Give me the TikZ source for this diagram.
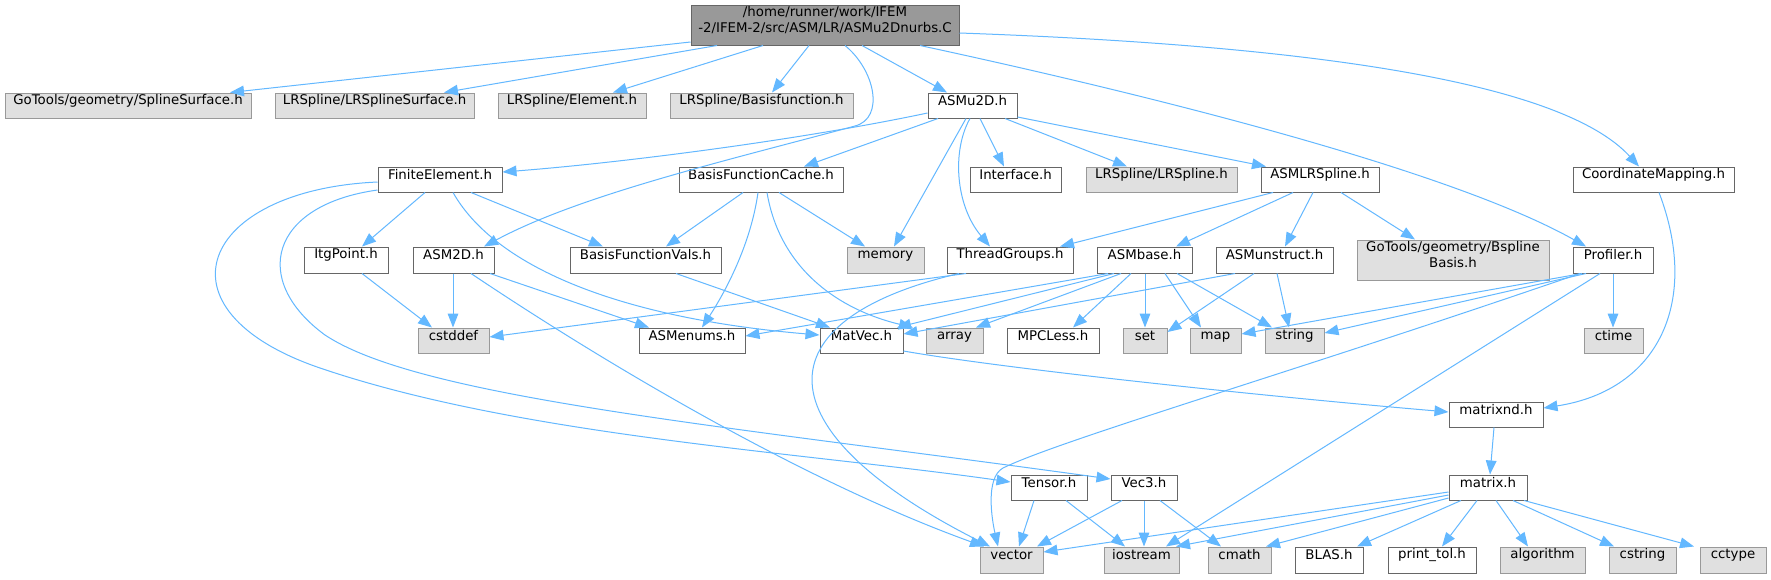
\documentclass[tikz,border=0pt]{standalone}
\usepackage{fontspec}
\setmainfont{DejaVu Sans}
\usetikzlibrary{arrows.meta,fit}
\definecolor{edgec}{HTML}{63B8FF}
\definecolor{nborder}{HTML}{666666}
\definecolor{xfill}{HTML}{E0E0E0}
\definecolor{xborder}{HTML}{999999}
\definecolor{rfill}{HTML}{999999}
\begin{document}
\begin{tikzpicture}[x=0.75bp,y=-0.75bp,
  every node/.style={font=\fontsize{10bp}{12bp}\selectfont, inner sep=0pt, line width=0.75bp},
  wbox/.style={draw=nborder, fill=white},
  xbox/.style={draw=xborder, fill=xfill},
  rbox/.style={draw=nborder, fill=rfill, align=left},
  dep/.style={draw=edgec, line width=0.75bp, -{Triangle[length=10.5bp,width=8bp]}}]
\useasboundingbox[fill=white] (0,0) rectangle (1771,579);
% nodes
\node[rbox, fit={(691,5)(959,45)}] (root) {/home/runner/work/IFEM\\-2/IFEM-2/src/ASM/LR/ASMu2Dnurbs.C};
\node[xbox, fit={(5,93)(251,118)}] (ss) {GoTools/geometry/SplineSurface.h};
\node[xbox, fit={(275,93)(474,118)}] (lrss) {LRSpline/LRSplineSurface.h};
\node[xbox, fit={(498,93)(646,118)}] (elem) {LRSpline/Element.h};
\node[xbox, fit={(670,93)(853,118)}] (bf) {LRSpline/Basisfunction.h};
\node[wbox, fit={(928,93)(1017,118)}] (asmu2d) {ASMu2D.h};
\node[wbox, fit={(378,167)(502,192)}] (fe) {FiniteElement.h};
\node[wbox, fit={(679,167)(843,192)}] (bfc) {BasisFunctionCache.h};
\node[wbox, fit={(970,167)(1061,192)}] (iface) {Interface.h};
\node[xbox, fit={(1086,167)(1237,192)}] (lrs) {LRSpline/LRSpline.h};
\node[wbox, fit={(1261,167)(1379,192)}] (asmlr) {ASMLRSpline.h};
\node[wbox, fit={(1573,167)(1734,192)}] (cmap) {CoordinateMapping.h};
\node[wbox, fit={(304,247)(388,273)}] (itg) {ItgPoint.h};
\node[wbox, fit={(413,247)(494,273)}] (asm2d) {ASM2D.h};
\node[wbox, fit={(570,247)(721,273)}] (bfv) {BasisFunctionVals.h};
\node[xbox, fit={(847,247)(924,273)}] (memory) {memory};
\node[wbox, fit={(947,247)(1073,273)}] (tg) {ThreadGroups.h};
\node[wbox, fit={(1097,247)(1192,273)}] (asmbase) {ASMbase.h};
\node[wbox, fit={(1216,247)(1333,273)}] (asmun) {ASMunstruct.h};
\node[xbox, fit={(1357,240)(1549,280)}, align=center] (bsb) {GoTools/geometry/Bspline\\Basis.h};
\node[wbox, fit={(1573,247)(1653,273)}] (prof) {Profiler.h};
\node[xbox, fit={(418,328)(489,353)}] (cstddef) {cstddef};
\node[wbox, fit={(639,328)(745,353)}] (asmenums) {ASMenums.h};
\node[wbox, fit={(820,328)(903,353)}] (matvec) {MatVec.h};
\node[xbox, fit={(926,328)(983,353)}] (array) {array};
\node[wbox, fit={(1007,328)(1099,353)}] (mpc) {MPCLess.h};
\node[xbox, fit={(1123,328)(1167,353)}] (set) {set};
\node[xbox, fit={(1190,328)(1241,353)}] (map) {map};
\node[xbox, fit={(1265,328)(1324,353)}] (string) {string};
\node[xbox, fit={(1584,328)(1643,353)}] (ctime) {ctime};
\node[wbox, fit={(1449,402)(1543,427)}] (matrixnd) {matrixnd.h};
\node[wbox, fit={(1011,475)(1087,500)}] (tensor) {Tensor.h};
\node[wbox, fit={(1111,475)(1177,500)}] (vec3) {Vec3.h};
\node[wbox, fit={(1449,475)(1527,500)}] (matrix) {matrix.h};
\node[xbox, fit={(980,547)(1043,573)}] (vector) {vector};
\node[xbox, fit={(1104,547)(1179,573)}] (iostream) {iostream};
\node[xbox, fit={(1208,547)(1271,573)}] (cmath) {cmath};
\node[wbox, fit={(1295,547)(1363,573)}] (blas) {BLAS.h};
\node[wbox, fit={(1388,547)(1476,573)}] (printtol) {print\_tol.h};
\node[xbox, fit={(1500,547)(1585,573)}] (algorithm) {algorithm};
\node[xbox, fit={(1609,547)(1676,573)}] (cstring) {cstring};
\node[xbox, fit={(1700,547)(1766,573)}] (cctype) {cctype};
% root edges
\draw[dep] (root.west |- 0,42) -- (ss.north -| 230,0);
\draw[dep] (root.south -| 717,0) -- (lrss.north -| 444,0);
\draw[dep] (root.south -| 763,0) -- (elem.north -| 613,0);
\draw[dep] (root.south -| 809,0) -- (bf.north -| 772,0);
\draw[dep] (root.south -| 845,0) .. controls (875,70) and (885,118) .. (855,126) .. controls (725,161) and (580,195) .. (asm2d.north -| 484,0);
\draw[dep] (root.south -| 862,0) -- (asmu2d.north -| 947,0);
\draw[dep] (root.south -| 920,0) .. controls (1150,95) and (1450,170) .. (prof.north -| 1586,0);
\draw[dep] (root.east |- 0,33) .. controls (1300,45) and (1560,80) .. (cmap.north -| 1639,0);
% ASMu2D
\draw[dep] (asmu2d.west |- 0,113) .. controls (800,140) and (620,163) .. (fe.east |- 0,172);
\draw[dep] (asmu2d.south -| 938,0) -- (bfc.north -| 804,0);
\draw[dep] (asmu2d.south -| 966,0) -- (memory.north -| 894,0);
\draw[dep] (asmu2d.south -| 970,0) .. controls (952,150) and (955,205) .. (tg.north -| 990,0);
\draw[dep] (asmu2d.south -| 980,0) -- (iface.north -| 1004,0);
\draw[dep] (asmu2d.south -| 1005,0) -- (lrs.north -| 1127,0);
\draw[dep] (asmu2d.east |- 0,117) -- (asmlr.north -| 1266,0);
% FiniteElement
\draw[dep] (fe.west |- 0,182) .. controls (200,190) and (150,310) .. (320,368) .. controls (520,436) and (800,452) .. (tensor.west |- 0,482);
\draw[dep] (fe.west |- 0,190) .. controls (270,205) and (250,280) .. (325,335) .. controls (420,398) and (720,425) .. (vec3.west |- 0,479);
\draw[dep] (fe.south -| 425,0) -- (itg.north -| 362,0);
\draw[dep] (fe.south -| 453,0) .. controls (500,275) and (640,320) .. (matvec.west |- 0,335);
\draw[dep] (fe.south -| 471,0) -- (bfv.north -| 603,0);
% BasisFunctionCache
\draw[dep] (bfc.south -| 743,0) -- (bfv.north -| 666,0);
\draw[dep] (bfc.south -| 758,0) .. controls (750,250) and (720,300) .. (asmenums.north -| 702,0);
\draw[dep] (bfc.south -| 767,0) .. controls (780,270) and (840,310) .. (array.north -| 913,0);
\draw[dep] (bfc.south -| 779,0) -- (memory.north -| 865,0);
% ASM2D, ItgPoint
\draw[dep] (asm2d.south -| 453,0) -- (cstddef.north -| 453,0);
\draw[dep] (asm2d.south -| 490,0) -- (asmenums.north -| 649,0);
\draw[dep] (asm2d.south -| 471,0) .. controls (600,360) and (800,480) .. (vector.north -| 984,0);
\draw[dep] (itg.south -| 362,0) -- (cstddef.north -| 432,0);
% ThreadGroups, BFV
\draw[dep] (tg.south -| 966,0) -- (cstddef.east |- 0,337);
\draw[dep] (tg.south -| 959,0) .. controls (760,320) and (760,430) .. (vector.north -| 990,0);
\draw[dep] (bfv.south -| 676,0) -- (matvec.north -| 830,0);
% ASMLRSpline
\draw[dep] (asmlr.south -| 1273,0) -- (tg.north -| 1060,0);
\draw[dep] (asmlr.south -| 1293,0) -- (asmbase.north -| 1176,0);
\draw[dep] (asmlr.south -| 1313,0) -- (asmun.north -| 1285,0);
\draw[dep] (asmlr.south -| 1341,0) -- (bsb.north -| 1415,0);
% ASMbase
\draw[dep] (asmbase.south -| 1108,0) -- (asmenums.east |- 0,336);
\draw[dep] (asmbase.south -| 1114,0) -- (matvec.north -| 897,0);
\draw[dep] (asmbase.south -| 1121,0) -- (array.north -| 976,0);
\draw[dep] (asmbase.south -| 1131,0) -- (mpc.north -| 1073,0);
\draw[dep] (asmbase.south -| 1145,0) -- (set.north -| 1145,0);
\draw[dep] (asmbase.south -| 1165,0) -- (map.north -| 1201,0);
\draw[dep] (asmbase.south -| 1177,0) -- (string.north -| 1272,0);
% ASMunstruct
\draw[dep] (asmun.south -| 1235,0) -- (matvec.east |- 0,334);
\draw[dep] (asmun.south -| 1254,0) -- (set.east |- 0,332);
\draw[dep] (asmun.south -| 1277,0) -- (string.north -| 1289,0);
% Profiler
\draw[dep] (prof.south -| 1582,0) -- (map.east |- 0,334);
\draw[dep] (prof.south -| 1586,0) -- (string.east |- 0,333);
\draw[dep] (prof.south -| 1580,0) .. controls (1300,370) and (1060,440) .. (1003,468) .. controls (985,478) and (992,520) .. (vector.north -| 998,0);
\draw[dep] (prof.south -| 1600,0) -- (iostream.north -| 1166,0);
\draw[dep] (prof.south -| 1613,0) -- (ctime.north -| 1613,0);
% CoordinateMapping, MatVec, matrixnd
\draw[dep] (cmap.south -| 1659,0) .. controls (1700,300) and (1660,390) .. (matrixnd.east |- 0,408);
\draw[dep] (matvec.east |- 0,351) .. controls (1000,368) and (1250,395) .. (matrixnd.west |- 0,412);
\draw[dep] (matrixnd.south -| 1494,0) -- (matrix.north -| 1490,0);
% Tensor, Vec3
\draw[dep] (tensor.south -| 1034,0) -- (vector.north -| 1019,0);
\draw[dep] (tensor.south -| 1066,0) -- (iostream.north -| 1125,0);
\draw[dep] (vec3.south -| 1122,0) -- (vector.north -| 1037,0);
\draw[dep] (vec3.south -| 1144,0) -- (iostream.north -| 1144,0);
\draw[dep] (vec3.south -| 1160,0) -- (cmath.north -| 1221,0);
% matrix
\draw[dep] (matrix.west |- 0,492) -- (vector.east |- 0,552);
\draw[dep] (matrix.west |- 0,495) -- (iostream.north -| 1176,0);
\draw[dep] (matrix.west |- 0,498) -- (cmath.north -| 1266,0);
\draw[dep] (matrix.south -| 1461,0) -- (blas.north -| 1357,0);
\draw[dep] (matrix.south -| 1477,0) -- (printtol.north -| 1442,0);
\draw[dep] (matrix.south -| 1496,0) -- (algorithm.north -| 1528,0);
\draw[dep] (matrix.south -| 1513,0) -- (cstring.north -| 1614,0);
\draw[dep] (matrix.south -| 1524,0) -- (cctype.north -| 1694,0);
\end{tikzpicture}
\end{document}
